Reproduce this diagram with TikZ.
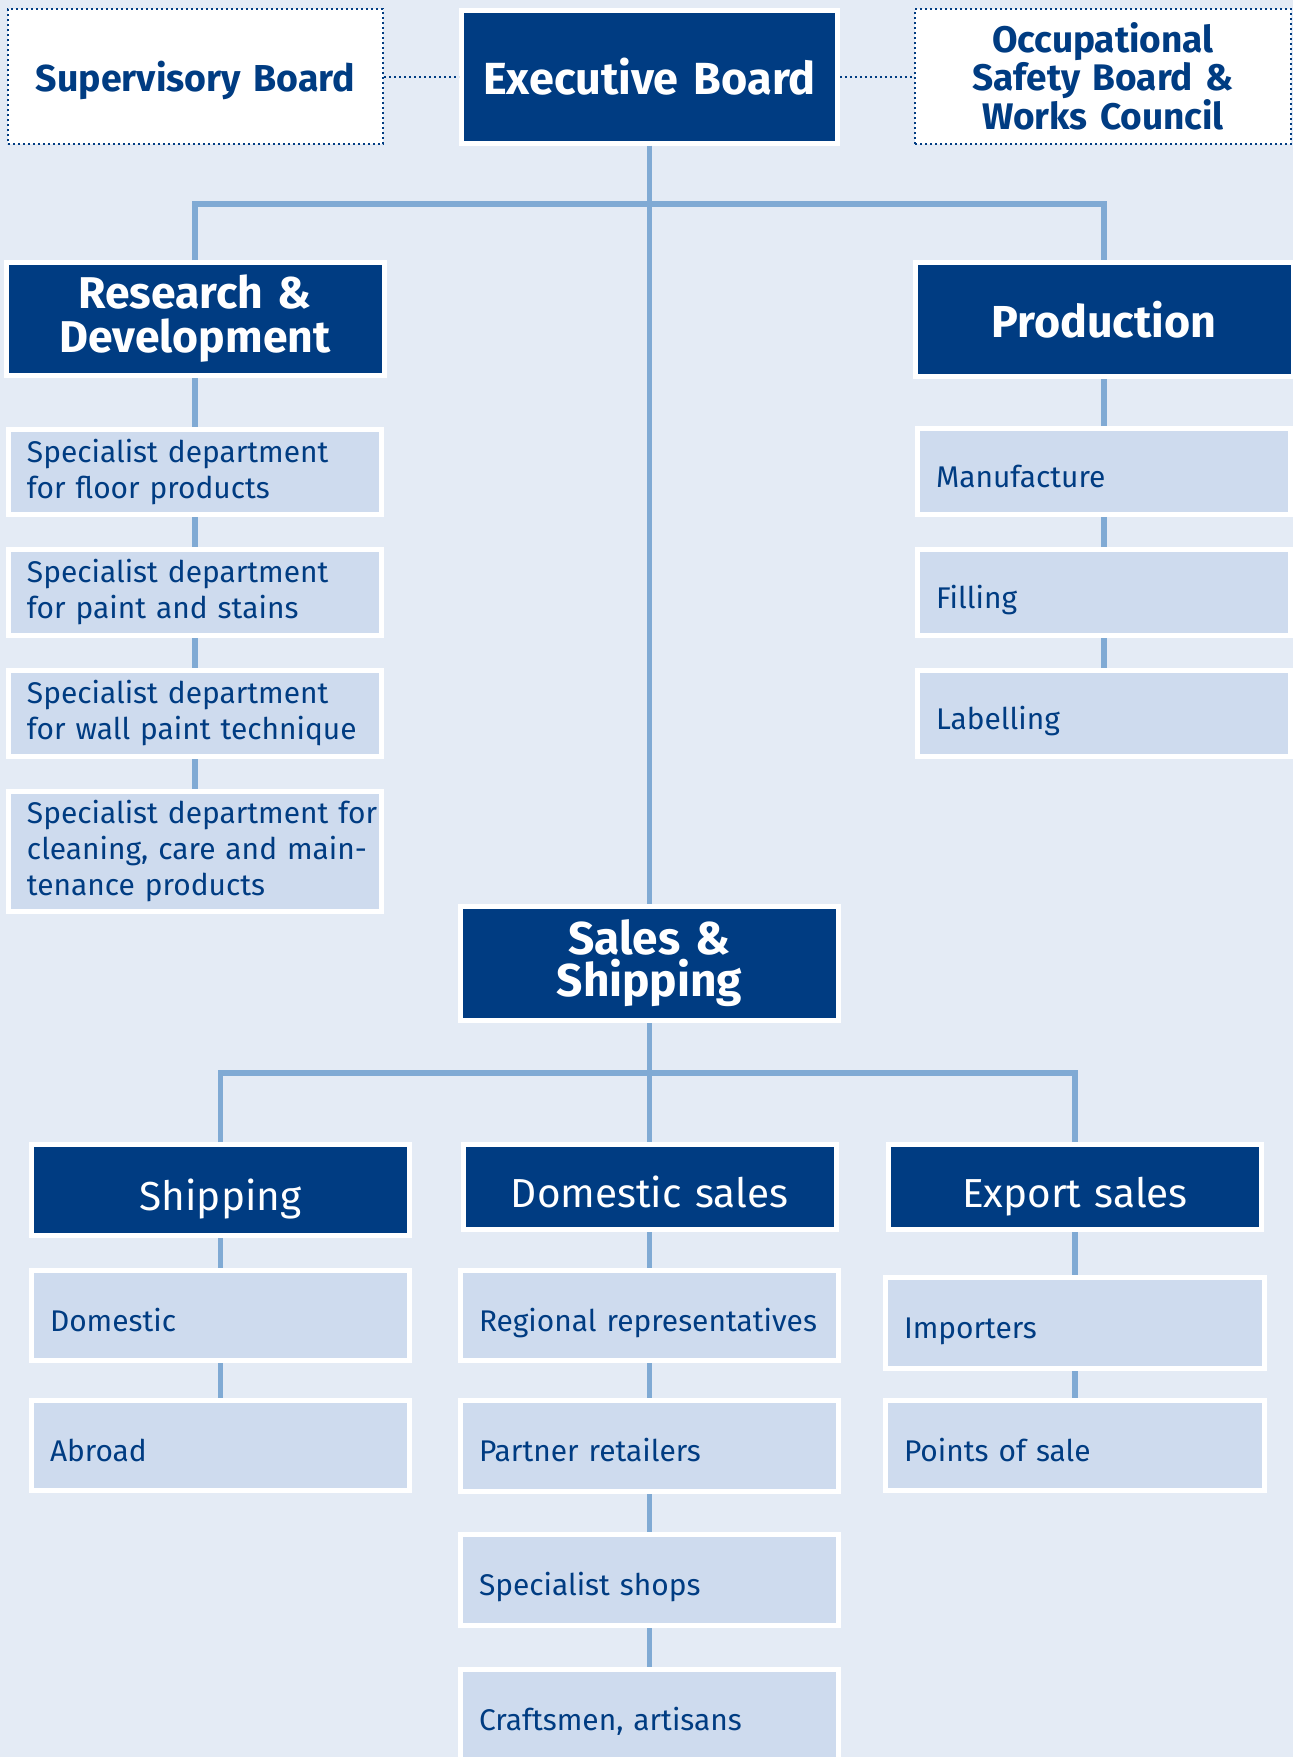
\documentclass[tikz,border=0pt]{standalone}
\usepackage{fontspec}
\setmainfont{Fira Sans}
\usepackage{tikz}

\definecolor{pageblue}{RGB}{228,235,245}
\definecolor{boardblue}{RGB}{0,60,130}
\definecolor{unitblue}{RGB}{206,219,238}
\definecolor{lineblue}{RGB}{128,170,212}

\begin{document}
\begin{tikzpicture}[%
      x=1pt, y=-1pt,
      board/.style={draw=boardblue, line width=2pt, dash pattern=on 2pt off 3pt,
        fill=white, text=boardblue, align=center, inner sep=0pt},
      head/.style={draw=white, line width=5pt, fill=boardblue, text=white,
        align=center, inner sep=0pt},
      unit/.style={draw=white, line width=5pt, fill=unitblue, text=boardblue,
        font=\fontsize{29.9}{36}\selectfont, align=left, inner sep=0pt,
        execute at begin node={\leftskip=18.5pt}},
      bold/.style 2 args={font=\fontsize{#1}{#2}\selectfont\bfseries},
      plain/.style={font=\fontsize{40.5}{44}\selectfont, text height=40pt, text depth=0pt},
      oneline/.style={text height=31pt, text depth=0pt},
      flat/.style={text depth=0pt},
      wh/.style 2 args={minimum width=#1, text width=#1, minimum height=#2},
      link/.style={draw=lineblue, line width=5.5pt},
      dotlink/.style={draw=boardblue, line width=2pt, dash pattern=on 2pt off 3pt},
      ]
      \useasboundingbox (0,0) rectangle (1293,1757);
      \fill[pageblue] (0,0) rectangle (1293,1757);

      \node[board, bold={37.5}{40}, flat, wh={375}{135}] (sup) at (195.5,76.5) {Supervisory Board};
      \node[head, bold={45}{45}, flat, wh={376}{133}] (exec) at (649.5,76.5) {Executive Board};
      \node[board, bold={37}{37.5}, wh={376}{135}] (occ) at (1103,76.5) {Occupational\\Safety Board \&\\Works Council};

      \node[head, bold={44.5}{44}, wh={378}{113}] (rd) at (195,319) {Research \&\\Development};
      \node[head, bold={44.8}{44}, flat, wh={378}{114}] (prod) at (1104,319.5) {Production};

      \node[unit, wh={373}{85}] (floor) at (195,472) {Specialist department\\for floor products};
      \node[unit, wh={373}{86}] (stains) at (195,592.5) {Specialist department\\for paint and stains};
      \node[unit, wh={373}{86}] (wall) at (195,713.5) {Specialist department\\for wall paint technique};
      \node[unit, wh={373}{120}] (clean) at (195,851.5) {Specialist department for\\cleaning, care and main-\\tenance products};

      \node[unit, oneline, wh={373}{86}] (manuf) at (1104,471.5) {Manufacture};
      \node[unit, oneline, wh={373}{86}] (filling) at (1104,592.5) {Filling};
      \node[unit, oneline, wh={373}{86}] (label) at (1104,713.5) {Labelling};

      \node[head, bold={46}{42}, wh={378}{114}] (sales) at (649.5,963.5) {Sales \&\\Shipping};

      \node[head, plain, wh={378}{91}] (ship) at (220.5,1190) {Shipping};
      \node[head, plain, wh={373}{85}] (domsales) at (649.5,1187) {Domestic sales};
      \node[head, plain, wh={373}{85}] (export) at (1075,1187) {Export sales};

      \node[unit, oneline, wh={378}{90}] (dom) at (220.5,1315.5) {Domestic};
      \node[unit, oneline, wh={378}{90}] (abroad) at (220.5,1445.5) {Abroad};
      \node[unit, oneline, wh={378}{90}] (regional) at (649.5,1315.5) {Regional representatives};
      \node[unit, oneline, wh={378}{91}] (partner) at (649.5,1446) {Partner retailers};
      \node[unit, oneline, wh={378}{91}] (shops) at (649.5,1580) {Specialist shops};
      \node[unit, oneline, wh={378}{91}] (crafts) at (649.5,1715) {Craftsmen, artisans};
      \node[unit, oneline, wh={379}{91}] (importers) at (1075,1323) {Importers};
      \node[unit, oneline, wh={379}{90}] (pos) at (1075,1445.5) {Points of sale};

      \coordinate (topbar) at (649.5,204);
      \coordinate (salesbar) at (649.5,1073);

      \draw[dotlink] (sup.east) -- (exec.west);
      \draw[dotlink] (exec.east) -- (occ.west);
      \draw[link] (exec.south) -- (sales.north);
      \draw[link] (rd.north) |- (topbar) -| (prod.north);
      \draw[link] (ship.north) |- (salesbar) -| (export.north);
      \foreach \a/\b in {rd/floor, floor/stains, stains/wall, wall/clean,
        prod/manuf, manuf/filling, filling/label, sales/domsales,
        ship/dom, dom/abroad, domsales/regional, regional/partner,
        partner/shops, shops/crafts, export/importers, importers/pos}
        \draw[link] (\a.south) -- (\b.north);
\end{tikzpicture}
\end{document}
